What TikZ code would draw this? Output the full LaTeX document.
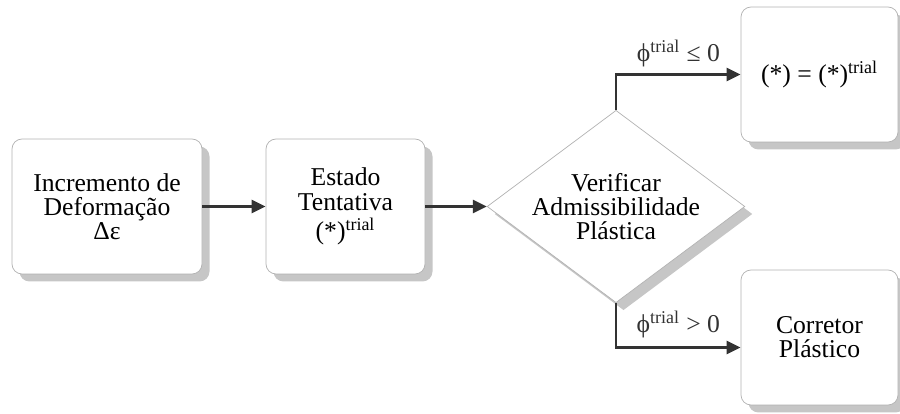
\documentclass[tikz,border=0pt]{standalone}
\usepackage{fontspec}
\setmainfont{Liberation Serif}
\usetikzlibrary{arrows.meta,shapes.geometric,shadows}

\newcommand{\trl}{\textsuperscript{trial}}

\tikzset{
  blk/.style={draw=gray!60, fill=white, rounded corners=0.2cm, align=center,
    minimum height=2.7cm, font=\fontsize{14.6}{13.8}\selectfont,
    drop shadow={shadow xshift=0.15cm, shadow yshift=-0.15cm, fill=gray!45, opacity=1}},
  flow/.style={-{Triangle[length=2.8mm,width=2.6mm]}, line width=1.5pt, black!80},
  lbl/.style={font=\fontsize{14.6}{13.8}\selectfont},
}

\begin{document}
\begin{tikzpicture}
  \useasboundingbox (0,0) rectangle (18,8.28);
  % blocos
  \node[blk, minimum width=3.8cm]  (inc)  at (2.14,4.15) {Incremento de\\Deformação\\Δε};
  \node[blk, minimum width=3.18cm] (tent) at (6.91,4.15) {Estado\\Tentativa\\[3pt](*)\trl};
  \node[blk, shape=diamond, rounded corners=0pt, aspect=1.34, inner sep=0pt,
        minimum width=5.04cm, minimum height=3.76cm] (ver) at (12.32,4.15)
        {Verificar\\Admissibilidade\\Plástica};
  \node[blk, minimum width=3.14cm] (ok)   at (16.39,6.79) {(*) = (*)\trl};
  \node[blk, minimum width=3.14cm] (corr) at (16.39,1.53) {Corretor\\Plástico};
  % conexoes
  \draw[flow] (inc.east) -- (tent.west);
  \draw[flow] (tent.east) -- (ver.west);
  \draw[flow] (ver.north) |- node[lbl, pos=0.75, above] {ϕ\trl{} ≤ 0} (ok.west);
  \draw[flow] (ver.south) |- node[lbl, pos=0.75, above, yshift=0.05cm] {ϕ\trl{} > 0} ([yshift=-0.2cm]corr.west);
\end{tikzpicture}
\end{document}
